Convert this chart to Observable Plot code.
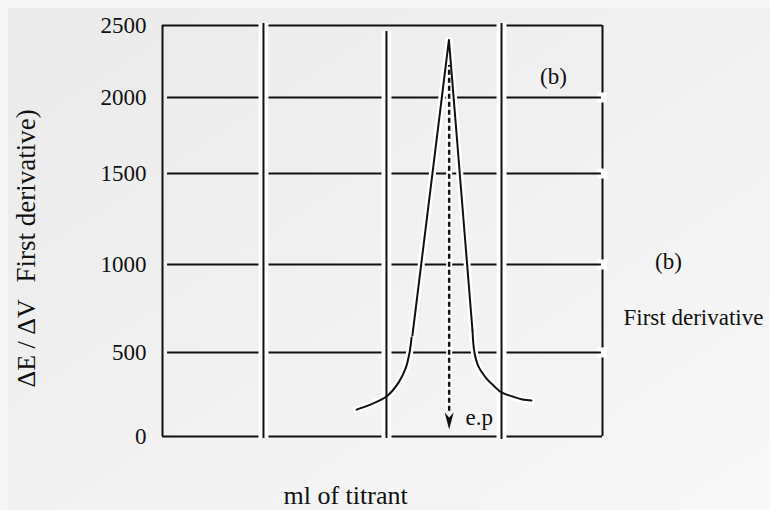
<!DOCTYPE html>
<html>
<head>
<meta charset="utf-8">
<script src="https://cdn.jsdelivr.net/npm/d3@7"></script>
<script src="https://cdn.jsdelivr.net/npm/@observablehq/plot@0.6"></script>
<style>
  body { margin: 0; }
  #wrap { position: relative; width: 770px; height: 510px; background: #f6f6f6; overflow: hidden; }
  #panel { position: absolute; left: 8px; top: 8px; right: 0; bottom: 0;
           background: linear-gradient(to bottom right, #eaeaea, #f8f8f8); }
  #chart { position: absolute; left: 0; top: 0; }
</style>
</head>
<body>
<div id="wrap"><div id="panel"></div><div id="chart"></div></div>
<script>
// ---- data ----
const yTicks = [0, 500, 1000, 1500, 2000, 2500];
const yTickLabels = ["0", "500", "1000", "1500", "2000", "2500"];
const innerGridY = [500, 1000, 1500, 2000];
const innerGridX = [4.59, 10.18, 15.41];          // ml, vertical grid lines
const leftTailMl  = [8.82, 9.45, 10.18, 10.73, 11.05, 11.23, 11.32];
const leftTailVal = [160, 190, 238, 321, 405, 500, 585];
const spikeMl  = [11.36, 13.02, 14.09];
const spikeVal = [597, 2400, 625];
const rightTailMl  = [14.09, 14.18, 14.36, 14.73, 15.09, 15.41, 15.91, 16.36, 16.77];
const rightTailVal = [625, 500, 417, 345, 298, 262, 238, 220, 214];
const endPointMl = 13.03;
const endPointTop = 2222;
const endPointBottom = 42;

const toPts = (xs, ys) => xs.map((x, i) => ({x, y: ys[i]}));
const leftTail = toPts(leftTailMl, leftTailVal);
const spike = toPts(spikeMl, spikeVal);
const rightTail = toPts(rightTailMl, rightTailVal);

// the hand-drawn axis has uneven spacing between its tick values
const ySpacing = d3.scaleLinear().domain(yTicks).range([0, 84, 172, 263, 339, 411]);

const ink = "#111";
const serif = "Liberation Serif, Times New Roman, serif";

const arrowHead = {
  draw(ctx) {
    ctx.moveTo(0, 0);
    ctx.lineTo(-4.5, -17);
    ctx.lineTo(0, -12);
    ctx.lineTo(4.5, -17);
    ctx.closePath();
  }
};

const label = (t, dx, dy, o = {}) =>
  Plot.text([t], {frameAnchor: "top-left", dx, dy, text: d => d, fill: ink,
                  fontFamily: serif, fontSize: 23, lineAnchor: "middle", ...o});

const chart = Plot.plot({
  width: 770,
  height: 510,
  marginLeft: 162, marginRight: 168, marginTop: 25, marginBottom: 74,
  style: {background: "transparent", fontFamily: serif, fontSize: "23px", color: ink},
  x: {domain: [0, 20], axis: null},
  y: {transform: ySpacing, domain: [0, 411], range: [436, 25], axis: null},
  marks: [
    // right edge with breaks
    Plot.ruleX([20], {y1: 0, y2: 2500, stroke: ink, strokeWidth: 2}),
    Plot.ruleY(innerGridY, {x1: 19.77, x2: 20.23, stroke: "white", strokeWidth: 10}),
    // left axis line
    Plot.ruleX([0], {y1: 0, y2: 2500, stroke: ink, strokeWidth: 2}),
    // top and bottom
    Plot.ruleY([0, 2500], {x1: 0, x2: 20, stroke: ink, strokeWidth: 2}),
    // inner horizontal grid
    Plot.ruleY(innerGridY, {x1: 0.23, x2: 19.95, stroke: ink, strokeWidth: 2}),
    // halos
    Plot.ruleX(innerGridX, {y1: [-12, -12, -18], y2: [2514, 2458, 2514], stroke: "white", strokeWidth: 10}),
    Plot.line(leftTail, {x: "x", y: "y", curve: "catmull-rom", stroke: "white", strokeWidth: 7}),
    Plot.line(spike, {x: "x", y: "y", stroke: "white", strokeWidth: 7}),
    Plot.line(rightTail, {x: "x", y: "y", curve: "catmull-rom", stroke: "white", strokeWidth: 7}),
    Plot.ruleX([endPointMl], {y1: 150, y2: endPointTop, stroke: "white", strokeWidth: 6}),
    // vertical grid
    Plot.ruleX(innerGridX, {y1: [-12, -12, -18], y2: [2514, 2458, 2514], stroke: ink, strokeWidth: 2}),
    // curve
    Plot.line(leftTail, {x: "x", y: "y", curve: "catmull-rom", stroke: ink, strokeWidth: 2}),
    Plot.line(spike, {x: "x", y: "y", stroke: ink, strokeWidth: 2}),
    Plot.line(rightTail, {x: "x", y: "y", curve: "catmull-rom", stroke: ink, strokeWidth: 2}),
    // dashed end point arrow
    Plot.ruleX([endPointMl], {y1: 150, y2: endPointTop, stroke: ink, strokeWidth: 2.5, strokeDasharray: "5,3"}),
    Plot.dot([{x: endPointMl, y: endPointBottom}], {x: "x", y: "y", symbol: arrowHead, fill: ink, stroke: "none", r: 5}),
    // y axis tick labels
    Plot.axisY(yTicks, {tickSize: 0, tickPadding: 16, label: null,
                        tickFormat: d => yTickLabels[yTicks.indexOf(d)], fill: ink}),
    // annotations inside the plot
    Plot.text(["(b)"], {x: [17.77], y: [2146], text: d => d, fill: ink, fontFamily: serif, fontSize: 23}),
    Plot.text(["e.p"], {x: [13.77], y: [115], text: d => d, textAnchor: "start", fill: ink, fontFamily: serif, fontSize: 23}),
    // outside labels
    label("(b)", 506, 236.6, {textAnchor: "middle"}),
    label("First derivative", 461, 292.6, {textAnchor: "start"}),
    label("ml of titrant", 121, 470, {textAnchor: "start", fontSize: 26}),
    label("ΔE / ΔV", -136, 362, {textAnchor: "start", rotate: -90, fontSize: 26}),
    label("First derivative)", -136, 257, {textAnchor: "start", rotate: -90, fontSize: 27})
  ]
});
document.getElementById("chart").appendChild(chart);
</script>
</body>
</html>
